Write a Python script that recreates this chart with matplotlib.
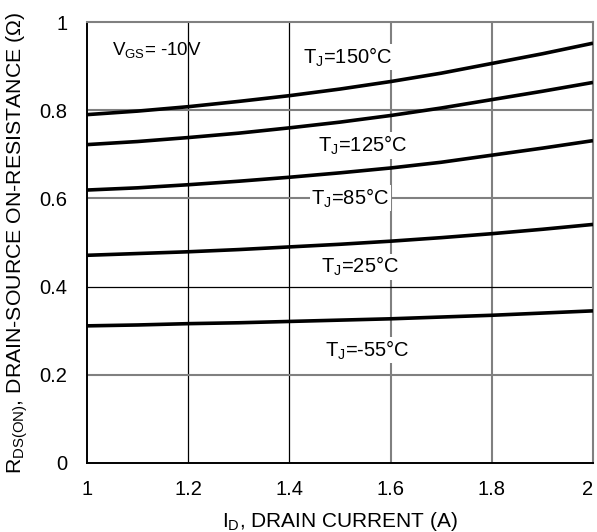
import matplotlib
matplotlib.use("Agg")
import matplotlib.pyplot as plt
import numpy as np

plt.rcParams['font.family'] = ['Liberation Sans', 'DejaVu Sans']
plt.rcParams['mathtext.fontset'] = 'custom'
plt.rcParams['mathtext.rm'] = 'Liberation Sans'
plt.rcParams['mathtext.it'] = 'Liberation Sans'

current = [1.0, 1.1, 1.2, 1.3, 1.4, 1.5, 1.6, 1.7, 1.8, 1.9, 2.0]
r_150 = [0.790, 0.798, 0.808, 0.820, 0.833, 0.848, 0.865, 0.884, 0.906, 0.928, 0.952]
r_125 = [0.722, 0.729, 0.738, 0.748, 0.760, 0.773, 0.788, 0.805, 0.824, 0.843, 0.863]
r_85 = [0.619, 0.624, 0.631, 0.639, 0.648, 0.658, 0.669, 0.682, 0.698, 0.714, 0.731]
r_25 = [0.471, 0.475, 0.479, 0.484, 0.490, 0.496, 0.503, 0.511, 0.520, 0.530, 0.541]
r_m55 = [0.311, 0.313, 0.316, 0.318, 0.321, 0.324, 0.327, 0.331, 0.335, 0.340, 0.345]

labels = [r'T$_\mathregular{J}$=150°C', r'T$_\mathregular{J}$=125°C', r'T$_\mathregular{J}$=85°C',
          r'T$_\mathregular{J}$=25°C', r'T$_\mathregular{J}$=-55°C']
label_x = [1.515, 1.545, 1.52, 1.54, 1.555]
label_y = [0.92, 0.72, 0.60, 0.445, 0.256]

xticks = [1, 1.2, 1.4, 1.6, 1.8, 2]
xticklabels = ['1', '1.2', '1.4', '1.6', '1.8', '2']
yticks = [0, 0.2, 0.4, 0.6, 0.8, 1]
yticklabels = ['0', '0.2', '0.4', '0.6', '0.8', '1']

# grid lines in the original come in two styles
dark_vgrid = [1.2, 1.4]
grey_vgrid = [1.6, 1.8]
dark_hgrid = [0.4]
grey_hgrid = [0.2, 0.6, 0.8]

fig = plt.figure(figsize=(5.97, 5.32), dpi=100)
ax = fig.add_axes([0.1457, 0.1297, 0.8476, 0.8289])

for v in dark_vgrid:
    ax.axvline(v, color='black', lw=0.9, zorder=1)
for v in grey_vgrid:
    ax.axvline(v, color='#808080', lw=1.5, zorder=1)
for h in dark_hgrid:
    ax.axhline(h, color='black', lw=0.9, zorder=1)
for h in grey_hgrid:
    ax.axhline(h, color='#808080', lw=1.5, zorder=1)

for r in [r_150, r_125, r_85, r_25, r_m55]:
    ax.plot(current, r, color='black', lw=2.6, zorder=3, solid_capstyle='butt')

for t, lx, ly in zip(labels, label_x, label_y):
    ax.text(lx, ly, t, fontsize=14.5, ha='center', va='center', zorder=4,
            bbox=dict(facecolor='white', edgecolor='none', pad=1))

ax.text(1.05, 0.937, r'V$_\mathregular{GS}$= -10V', fontsize=13.5, ha='left', va='center')

ax.set_xlim(1, 2)
ax.set_ylim(0, 1)
ax.set_xticks(xticks)
ax.set_xticklabels(xticklabels)
ax.set_yticks(yticks)
ax.set_yticklabels(yticklabels)
ax.tick_params(length=0, labelsize=14.5)
ax.tick_params(axis='x', pad=12)
ax.tick_params(axis='y', pad=14)
# the last x label sits at the very edge; nudge it inward so it is not cut
ax.get_xticklabels()[-1].set_horizontalalignment('right')

for side in ['left', 'bottom']:
    ax.spines[side].set_color('black')
    ax.spines[side].set_linewidth(1.4)
for side in ['top', 'right']:
    ax.spines[side].set_color('#808080')
    ax.spines[side].set_linewidth(1.5)

ax.set_xlabel(r'I$_\mathregular{D}$, DRAIN CURRENT (A)', fontsize=15, labelpad=8)
ax.set_ylabel(r'R$_\mathregular{DS(ON)}$, DRAIN-SOURCE ON-RESISTANCE (Ω)', fontsize=15.3)
ax.yaxis.set_label_coords(-0.113, 0.5)

fig.savefig('out.png', dpi=100)
